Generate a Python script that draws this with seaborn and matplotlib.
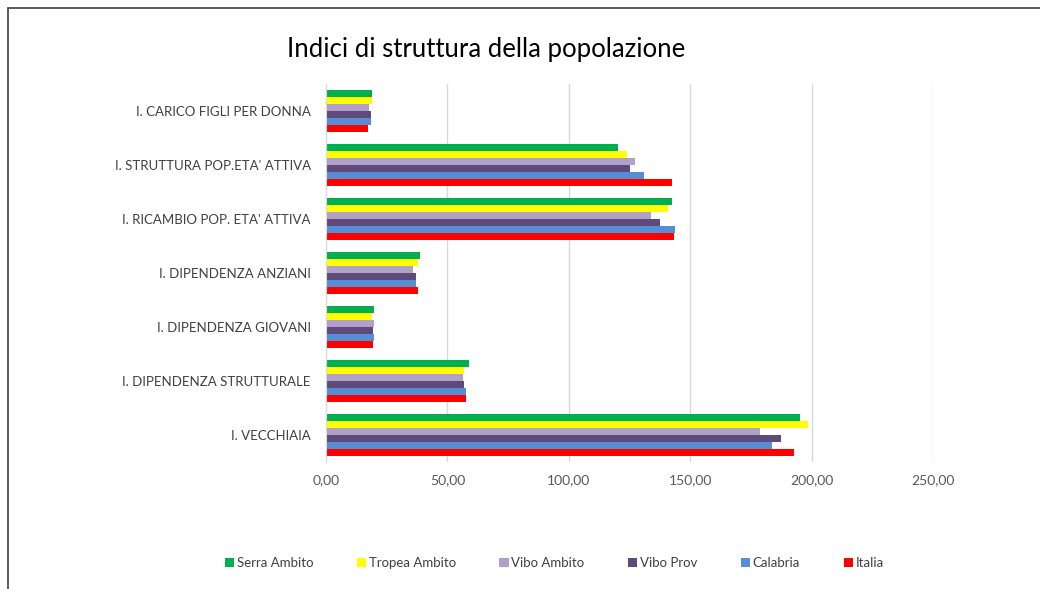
import numpy as np
import pandas as pd
import matplotlib
matplotlib.use("Agg")
import matplotlib.pyplot as plt
from matplotlib.patches import Rectangle
from matplotlib.ticker import FuncFormatter
import seaborn as sns

# ---------------- data ----------------
categories = [
    "I. CARICO FIGLI PER DONNA",
    "I. STRUTTURA POP.ETA' ATTIVA",
    "I. RICAMBIO POP. ETA' ATTIVA",
    "I. DIPENDENZA ANZIANI",
    "I. DIPENDENZA GIOVANI",
    "I. DIPENDENZA STRUTTURALE",
    "I. VECCHIAIA",
]
series_names = ["Serra Ambito", "Tropea Ambito", "Vibo Ambito", "Vibo Prov", "Calabria", "Italia"]

serra_ambito = [19.0, 120.4, 142.7, 38.8, 19.6, 58.7, 195.2]
tropea_ambito = [18.9, 124.1, 141.0, 37.7, 18.8, 56.9, 198.5]
vibo_ambito = [17.7, 127.1, 134.0, 36.0, 19.9, 56.5, 178.7]
vibo_prov = [18.4, 125.1, 137.7, 37.2, 19.5, 57.0, 187.5]
calabria = [18.4, 131.1, 143.6, 36.9, 19.9, 57.5, 183.5]
italia = [17.5, 142.3, 143.3, 37.7, 19.3, 57.5, 192.9]

colors = ["#00b050", "#ffff00", "#b1a0c7", "#604a7b", "#558ed5", "#ff0000"]
x_ticks = [0, 50, 100, 150, 200, 250]

series_values = [serra_ambito, tropea_ambito, vibo_ambito, vibo_prov, calabria, italia]
df = pd.DataFrame({
    "indice": categories * len(series_names),
    "serie": np.repeat(series_names, len(categories)),
    "valore": np.concatenate(series_values),
})

# ---------------- plot ----------------
sns.set_style("white")
plt.rcParams["font.family"] = ["Lato", "DejaVu Sans"]

fig = plt.figure(figsize=(10.4, 5.89), dpi=100)
ax = fig.add_axes([326 / 1040, 1 - 462 / 589, (933 - 326) / 1040, (462 - 84) / 589])

sns.barplot(data=df, x="valore", y="indice", hue="serie", order=categories,
            hue_order=series_names, palette=colors, orient="h", width=0.78,
            gap=0, saturation=1, errorbar=None, linewidth=0, ax=ax, legend=True)

ax.set_xlim(0, 250)
ax.set_xticks(x_ticks)
ax.xaxis.set_major_formatter(FuncFormatter(lambda v, p: f"{v:.2f}".replace(".", ",")))
ax.grid(axis="x", color="#d9d9d9", lw=1)
ax.set_axisbelow(True)
ax.set_xlabel("")
ax.set_ylabel("")
for s in ["top", "right", "bottom"]:
    ax.spines[s].set_visible(False)
ax.spines["left"].set_color("#d9d9d9")
ax.tick_params(axis="both", length=0)
ax.tick_params(axis="x", labelsize=10, labelcolor="#595959", pad=9)
ax.tick_params(axis="y", labelsize=9.5, labelcolor="#404040", pad=11)

# legend at the bottom
handles, labels = ax.get_legend_handles_labels()
ax.get_legend().remove()
fig.legend(handles, labels, loc="center", bbox_to_anchor=(0.533, 1 - 563 / 589),
           ncol=6, frameon=False, fontsize=9.5, handlelength=0.7, handleheight=0.7,
           handletextpad=0.2, columnspacing=3.3, labelcolor="#404040")

fig.text(486 / 1040, 1 - 50 / 589, "Indici di struttura della popolazione",
         ha="center", va="center", fontsize=18.5, color="#000000")

# chart frame (cut off at right and bottom as in the original)
fig.patches.append(Rectangle((7.5 / 1040, -0.1), 1.5, 1 - 8 / 589 + 0.1,
                             transform=fig.transFigure, fill=False,
                             edgecolor="#404040", lw=1.2))

fig.savefig("out.png", dpi=100)
